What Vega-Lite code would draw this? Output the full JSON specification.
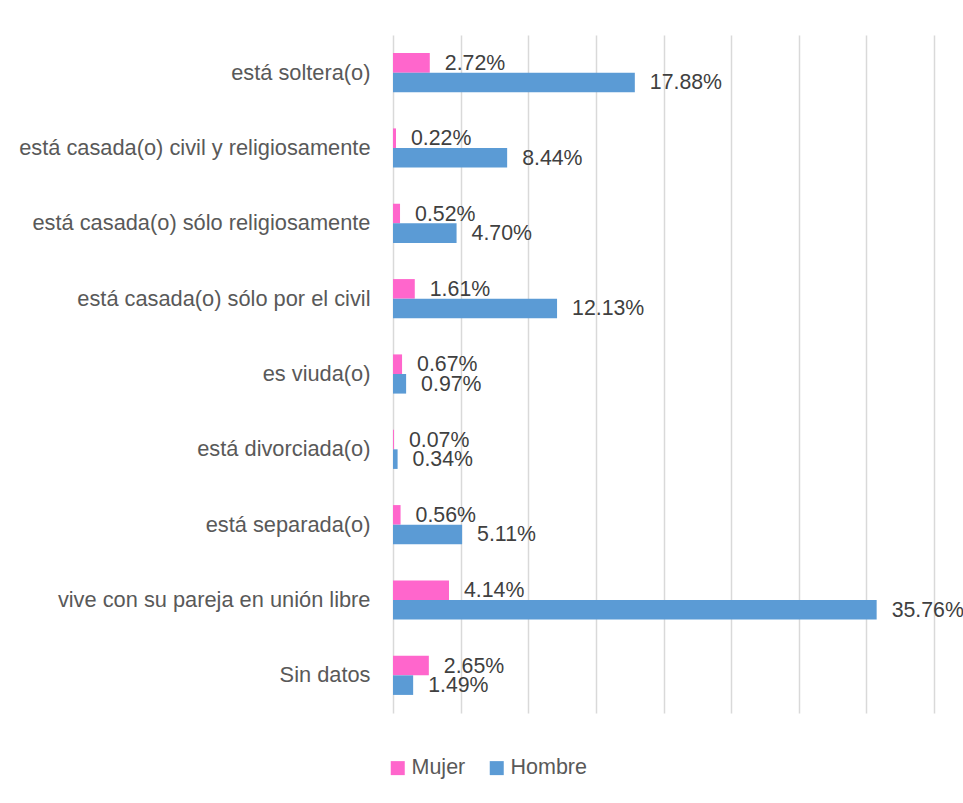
{
  "$schema": "https://vega.github.io/schema/vega-lite/v6.json",
  "autosize": {"type": "none"},
  "width": 541,
  "height": 678,
  "padding": {"left": 393, "top": 35, "right": 29, "bottom": 90},
  "background": "white",
  "config": {
    "view": {"stroke": null},
    "font": "Liberation Sans"
  },
  "data": {
    "values": [
      {"categoria": "está soltera(o)", "sexo": "Mujer", "valor": 0.0272},
      {"categoria": "está soltera(o)", "sexo": "Hombre", "valor": 0.1788},
      {"categoria": "está casada(o) civil y religiosamente", "sexo": "Mujer", "valor": 0.0022},
      {"categoria": "está casada(o) civil y religiosamente", "sexo": "Hombre", "valor": 0.0844},
      {"categoria": "está casada(o) sólo religiosamente", "sexo": "Mujer", "valor": 0.0052},
      {"categoria": "está casada(o) sólo religiosamente", "sexo": "Hombre", "valor": 0.0470},
      {"categoria": "está casada(o) sólo por el civil", "sexo": "Mujer", "valor": 0.0161},
      {"categoria": "está casada(o) sólo por el civil", "sexo": "Hombre", "valor": 0.1213},
      {"categoria": "es viuda(o)", "sexo": "Mujer", "valor": 0.0067},
      {"categoria": "es viuda(o)", "sexo": "Hombre", "valor": 0.0097},
      {"categoria": "está divorciada(o)", "sexo": "Mujer", "valor": 0.0007},
      {"categoria": "está divorciada(o)", "sexo": "Hombre", "valor": 0.0034},
      {"categoria": "está separada(o)", "sexo": "Mujer", "valor": 0.0056},
      {"categoria": "está separada(o)", "sexo": "Hombre", "valor": 0.0511},
      {"categoria": "vive con su pareja en unión libre", "sexo": "Mujer", "valor": 0.0414},
      {"categoria": "vive con su pareja en unión libre", "sexo": "Hombre", "valor": 0.3576},
      {"categoria": "Sin datos", "sexo": "Mujer", "valor": 0.0265},
      {"categoria": "Sin datos", "sexo": "Hombre", "valor": 0.0149}
    ]
  },
  "encoding": {
    "y": {
      "field": "categoria",
      "type": "nominal",
      "sort": null,
      "scale": {"paddingInner": 0.48, "paddingOuter": 0.24},
      "axis": {
        "title": null,
        "domain": false,
        "ticks": false,
        "labelFontSize": 21.8,
        "labelColor": "#595959",
        "labelPadding": 23,
        "labelLimit": 400
      }
    },
    "yOffset": {
      "field": "sexo",
      "type": "nominal",
      "sort": ["Mujer", "Hombre"],
      "scale": {"domain": ["Mujer", "Hombre"]}
    },
    "x": {
      "field": "valor",
      "type": "quantitative",
      "scale": {"domain": [0, 0.4], "nice": false},
      "axis": {
        "title": null,
        "labels": false,
        "domain": false,
        "ticks": false,
        "values": [0, 0.05, 0.1, 0.15, 0.2, 0.25, 0.3, 0.35, 0.4],
        "gridColor": "#d9d9d9",
        "gridWidth": 1.5
      }
    }
  },
  "layer": [
    {
      "mark": {"type": "bar"},
      "encoding": {
        "color": {
          "field": "sexo",
          "type": "nominal",
          "scale": {"domain": ["Mujer", "Hombre"], "range": ["#FF66CC", "#5B9BD5"]},
          "legend": {
            "title": null,
            "orient": "none",
            "direction": "horizontal",
            "legendX": -6,
            "legendY": 722,
            "symbolType": "square",
            "symbolSize": 196,
            "symbolStrokeWidth": 0,
            "labelFontSize": 21.5,
            "labelColor": "#595959",
            "labelOffset": 3,
            "columnPadding": 20
          }
        }
      }
    },
    {
      "mark": {"type": "text", "align": "left", "baseline": "middle", "dx": 15, "dy": 1, "fontSize": 21.3, "color": "#404040"},
      "encoding": {
        "text": {"field": "valor", "type": "quantitative", "format": ".2%"}
      }
    }
  ]
}
